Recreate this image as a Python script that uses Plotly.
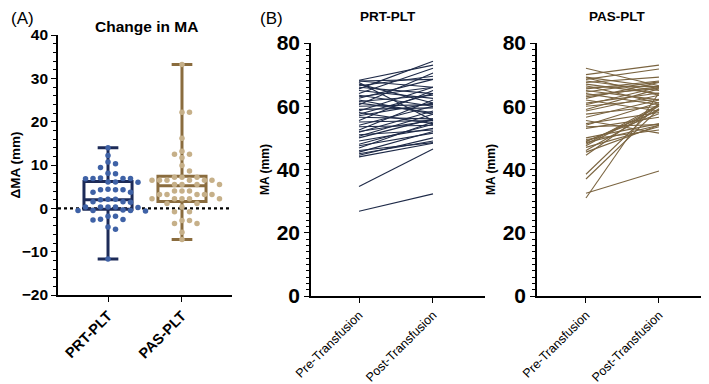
import plotly.graph_objects as go

# ---------------- data ----------------
groups = ["PRT-PLT", "PAS-PLT"]

prt_delta = [14.0, 12.2, 10.7, 10.3, 9.4, 8.1, 8.0, 7.0, 6.9, 6.9, 6.8, 6.9, 6.1, 6.1, 6.0,
             4.3, 4.4, 4.3, 4.3, 3.7, 3.7, 2.1, 2.0, 2.1, 1.5, 1.5, 1.4, 0.3, 0.3, 0.2, 0.3, 0.3,
             -0.5, -0.5, -0.4, -0.5, -0.6, -1.8, -1.8, -2.6, -2.7, -2.5, -4.3, -4.8, -11.7]
pas_delta = [33.2, 22.2, 22.2, 16.2, 13.2, 12.5, 12.5, 11.7, 9.9, 8.6, 7.2, 7.2, 7.2,
             6.5, 6.5, 6.5, 6.5, 6.5, 6.5, 5.5, 5.5, 5.5, 5.5, 4.0, 4.0, 4.0,
             3.2, 3.2, 3.2, 3.2, 3.2, 2.2, 2.2, 2.2, 2.2, 2.2, 1.1, 1.1, 0.3,
             -0.8, -0.8, -2.8, -2.8, -3.5, -3.5, -5.5, -7.2]

# box statistics (min, q1, median, q3, max)
box_min = [-11.7, -7.2]
box_q1 = [-0.2, 1.6]
box_med = [2.0, 5.2]
box_q3 = [6.2, 7.4]
box_max = [14.0, 33.2]

time_labels = ["Pre-Transfusion", "Post-Transfusion"]

prt_pre = [26.8, 34.6, 44.0, 44.5, 45.5, 46.0, 46.8, 47.5, 48.0, 49.0, 50.0, 50.5, 51.0, 51.8, 52.0,
           52.5, 53.5, 54.0, 55.0, 55.5, 56.5, 57.0, 57.5, 58.0, 58.5, 59.0, 60.0, 60.5, 61.0, 61.5,
           62.0, 62.5, 63.0, 63.5, 64.0, 65.0, 65.5, 66.0, 66.5, 67.0, 67.5, 68.0, 68.2, 68.0, 45.0]
prt_post = [32.3, 46.5, 48.3, 50.0, 52.0, 48.5, 55.0, 51.5, 54.3, 53.0, 56.0, 57.5, 52.5, 58.5, 55.5,
            62.0, 54.0, 60.0, 55.5, 65.0, 56.0, 61.0, 64.0, 54.5, 66.0, 59.5, 60.5, 70.5, 58.0, 63.5,
            57.5, 68.5, 66.0, 60.0, 72.0, 62.5, 74.2, 64.0, 69.5, 61.0, 55.5, 68.5, 73.0, 66.0, 49.0]

pas_pre = [31.0, 32.5, 37.0, 38.5, 44.5, 46.0, 47.5, 48.0, 48.5, 48.8, 49.0, 49.5, 50.0, 47.0, 53.5,
           54.0, 54.5, 55.5, 56.5, 57.5, 58.5, 59.0, 60.0, 60.5, 61.0, 62.0, 62.5, 63.0, 63.5, 64.0,
           64.5, 65.0, 65.5, 66.0, 66.5, 67.0, 67.5, 68.0, 68.5, 69.0, 69.2, 72.0, 70.0, 45.5, 53.0]
pas_post = [64.2, 39.5, 59.2, 60.7, 60.7, 59.2, 60.0, 60.5, 54.0, 58.7, 57.6, 52.5, 54.5, 53.5, 54.2,
            61.2, 58.0, 51.5, 62.0, 60.0, 63.5, 65.5, 62.2, 66.0, 64.2, 58.5, 67.5, 66.2, 65.7, 60.5,
            67.7, 62.0, 68.0, 66.3, 61.0, 64.0, 69.2, 65.0, 71.8, 63.5, 66.0, 66.5, 73.0, 54.0, 56.5]

# ---------------- styling ----------------
FONT = "Liberation Sans, Arial, sans-serif"
PRT_DARK = "#1d2b58"
PRT_PT = "#3f62a6"
PAS_DARK = "#8a6c3e"
PAS_PT = "#c6b089"
PRT_LINE = "#1e2a48"
PAS_LINE = "#7a6440"

# the page body has an 8px default margin; size the figure so it fills the window
OFF = 8
W, H = 709 - OFF, 384 - OFF


def fx(p):
    return (p - OFF) / W


def fy(p):
    return 1 - (p - OFF) / H


def swarm(vals, ypx, xpx, step=7.5, mind=6.2):
    """simple beeswarm: returns x offsets in data units"""
    order = sorted(range(len(vals)), key=lambda i: -vals[i])
    placed = []
    offs = [0.0] * len(vals)
    for i in order:
        y = vals[i] * ypx
        cands = [0.0]
        for j in range(1, 12):
            cands += [j * step, -j * step]
        for c in cands:
            if all((c - px) ** 2 + (y - py) ** 2 >= mind ** 2 for px, py in placed):
                placed.append((c, y))
                offs[i] = c / xpx
                break
    return offs


fig = go.Figure()

# ---- panel A ----
ypx_a = 260 / 60.0
xpx_a = 74.0
for gi, (deltas, dark, ptc) in enumerate([(prt_delta, PRT_DARK, PRT_PT), (pas_delta, PAS_DARK, PAS_PT)]):
    fig.add_trace(go.Box(
        x=[gi], q1=[box_q1[gi]], median=[box_med[gi]], q3=[box_q3[gi]],
        lowerfence=[box_min[gi]], upperfence=[box_max[gi]],
        width=0.65, whiskerwidth=0.43, boxpoints=False,
        line=dict(color=dark, width=3), fillcolor="rgba(0,0,0,0)",
        xaxis="x", yaxis="y", showlegend=False, hoverinfo="skip"))
    offs = swarm(deltas, ypx_a, xpx_a)
    fig.add_trace(go.Scatter(
        x=[gi + o for o in offs], y=deltas, mode="markers",
        marker=dict(color=ptc, size=5.5, line=dict(width=0)),
        xaxis="x", yaxis="y", showlegend=False))

# ---- panel B ----
for pre, post, col, xa, ya in [(prt_pre, prt_post, PRT_LINE, "x2", "y2"),
                               (pas_pre, pas_post, PAS_LINE, "x3", "y3")]:
    for a, b in zip(pre, post):
        fig.add_trace(go.Scatter(
            x=[0, 1], y=[a, b], mode="lines",
            line=dict(color=col, width=1.1),
            xaxis=xa, yaxis=ya, showlegend=False, hoverinfo="skip"))

axis_common = dict(showline=True, linecolor="black", linewidth=1.6, showgrid=False, automargin=False,
                   zeroline=False, ticks="outside", tickcolor="black", ticklen=5, tickwidth=1.4)
minor = dict(ticks="outside", ticklen=3, tickcolor="black", tickwidth=1, showgrid=False)

fig.update_layout(
    width=W, height=H,
    margin=dict(l=0, r=0, t=0, b=0),
    paper_bgcolor="white", plot_bgcolor="white",
    font=dict(family=FONT, color="black"),
    xaxis=dict(domain=[fx(58), fx(232)], range=[-0.676, 1.676], anchor="y",
               tickvals=[0, 1], ticktext=groups, tickangle=-45,
               tickfont=dict(size=14.5, weight=700, family=FONT), **axis_common),
    yaxis=dict(domain=[fy(295), fy(35)], range=[-20, 40], anchor="x",
               tickmode="linear", tick0=0, dtick=10,
               tickfont=dict(size=15.5, weight=700, family=FONT),
               title=dict(text="ΔMA (mm)", font=dict(size=13.5, weight=700, family=FONT), standoff=5),
               minor=dict(dtick=2, **minor),
               **axis_common),
    xaxis2=dict(domain=[fx(311), fx(485)], range=[-0.649, 1.703], anchor="y2",
                tickvals=[0, 1], ticktext=time_labels, tickangle=-45,
                tickfont=dict(size=12.5, family=FONT), **axis_common),
    yaxis2=dict(domain=[fy(296), fy(43)], range=[0, 80], anchor="x2",
                tickmode="linear", tick0=0, dtick=20,
                tickfont=dict(size=21, weight=700, family=FONT),
                title=dict(text="MA (mm)", font=dict(size=12, weight=700, family=FONT), standoff=4),
                minor=dict(dtick=2, **minor),
                **axis_common),
    xaxis3=dict(domain=[fx(537), fx(707)], range=[-0.671, 1.658], anchor="y3",
                tickvals=[0, 1], ticktext=time_labels, tickangle=-45,
                tickfont=dict(size=12.5, family=FONT), **axis_common),
    yaxis3=dict(domain=[fy(296), fy(43)], range=[0, 80], anchor="x3",
                tickmode="linear", tick0=0, dtick=20,
                tickfont=dict(size=21, weight=700, family=FONT),
                title=dict(text="MA (mm)", font=dict(size=12, weight=700, family=FONT), standoff=4),
                minor=dict(dtick=2, **minor),
                **axis_common),
)

# dotted zero line in panel A
fig.add_shape(type="line", xref="x domain", yref="y", x0=0, x1=1, y0=0, y1=0,
              line=dict(color="black", width=2.2, dash="dot"), layer="below")

# panel letters (anchored to the top edge so they stay inside the page)
for txt, xp in [("(A)", 10), ("(B)", 259)]:
    fig.add_annotation(xref="paper", yref="paper", x=fx(xp), y=fy(OFF), xanchor="left", yanchor="top",
                       text=txt, showarrow=False, borderpad=0,
                       font=dict(size=17, family=FONT, color="black"))

annots = [
    dict(text="Change in MA", x=fx(146), y=fy(27), font=dict(size=15.5, weight=700)),
    dict(text="PRT-PLT", x=fx(388), y=fy(17), font=dict(size=13.5, weight=700)),
    dict(text="PAS-PLT", x=fx(617), y=fy(17), font=dict(size=13.5, weight=700)),
]
for a in annots:
    a["font"]["family"] = FONT
    a["font"]["color"] = "black"
    fig.add_annotation(xref="paper", yref="paper", xanchor="center", yanchor="middle", showarrow=False, **a)

fig.write_html("out.html")
